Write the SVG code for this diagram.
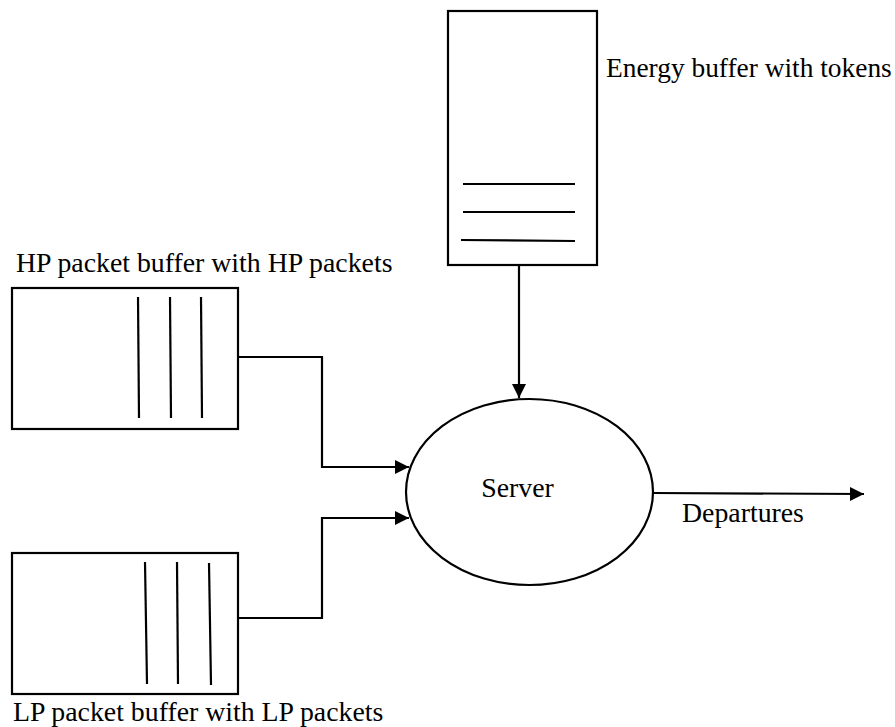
<svg xmlns="http://www.w3.org/2000/svg" width="895" height="727" viewBox="0 0 895 727">
<style>
.box{fill:#fff;stroke:#000;stroke-width:2.2}
.tok{stroke:#000;stroke-width:2.2;fill:none}
.conn{stroke:#000;stroke-width:2.2;fill:none}
.lbl{font-family:'Liberation Serif','Times New Roman',serif;font-size:27.8px;fill:#000}
</style>
<defs>
<marker id="arr" markerUnits="userSpaceOnUse" markerWidth="15" markerHeight="15" viewBox="0 0 15 15" refX="14" refY="7.5" orient="auto">
<path d="M0,0.5 L14,7.5 L0,14.5 Z" fill="#000"/>
</marker>
</defs>
<rect width="895" height="727" fill="#fff"/>
<g id="energy-buffer">
<rect class="box" x="448" y="11" width="149" height="254"/>
<line class="tok" x1="463" y1="184" x2="575" y2="184"/>
<line class="tok" x1="463" y1="212" x2="575" y2="212"/>
<line class="tok" x1="461" y1="240" x2="575" y2="241"/>
<text class="lbl" x="606" y="77" style="font-size:27.4px">Energy buffer with tokens</text>
</g>
<g id="hp-buffer">
<rect class="box" x="12" y="288" width="226" height="141"/>
<line class="tok" x1="138" y1="297" x2="139" y2="418"/>
<line class="tok" x1="170" y1="297" x2="171" y2="418"/>
<line class="tok" x1="201" y1="297" x2="202" y2="418"/>
<text class="lbl" x="16" y="272">HP packet buffer with HP packets</text>
</g>
<g id="lp-buffer">
<rect class="box" x="12" y="553" width="226" height="141"/>
<line class="tok" x1="145" y1="562" x2="147" y2="684"/>
<line class="tok" x1="177" y1="562" x2="178" y2="684"/>
<line class="tok" x1="209" y1="563" x2="211" y2="685"/>
<text class="lbl" x="13" y="721">LP packet buffer with LP packets</text>
</g>
<g id="server">
<ellipse class="box" cx="529.5" cy="492" rx="123.5" ry="93"/>
<text class="lbl" x="517.5" y="497" text-anchor="middle">Server</text>
</g>
<g id="connectors">
<path class="conn" d="M519,265 L519,398" marker-end="url(#arr)"/>
<path class="conn" d="M238,357 L322,357 L322,467 L409,467" marker-end="url(#arr)"/>
<path class="conn" d="M238,618 L322,618 L322,518 L409,518" marker-end="url(#arr)"/>
<path class="conn" d="M653,493 L864,494" marker-end="url(#arr)"/>
<text class="lbl" x="682" y="522">Departures</text>
</g>
</svg>
